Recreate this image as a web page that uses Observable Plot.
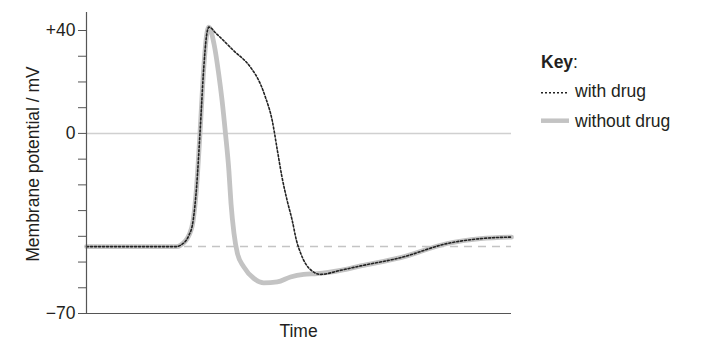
<!DOCTYPE html>
<html>
<head>
<meta charset="utf-8">
<script src="https://cdn.jsdelivr.net/npm/d3@7"></script>
<script src="https://cdn.jsdelivr.net/npm/@observablehq/plot@0.6"></script>
<style>
  html, body { margin: 0; padding: 0; background: #fff; }
  #chart { width: 705px; height: 344px; }
  svg { display: block; }
</style>
</head>
<body>
<div id="chart"></div>
<script>
// ---- data (time in arbitrary units, membrane potential in mV) ----
const withDrugT = [0, 21.2, 22.1, 24.1, 25.1, 25.9, 26.7, 27.6, 28.2, 28.8, 30.6, 34.6, 38.6, 40.9, 42.1, 43.7, 44.9, 46.0, 47.2, 48.4, 49.4, 50.4, 51.5, 53.1, 55.1, 59.8, 64.5, 73.9, 84.9, 92.7, 100];
const withDrugV = [-44, -44, -43.5, -39.6, -33.8, -20.9, 0, 25.7, 37.4, 41.3, 38.7, 32.2, 25.7, 19.3, 14.1, 5, -6.5, -17, -26, -33.8, -41.6, -46.6, -50.5, -53.5, -54.8, -53.2, -51.5, -48.3, -42.8, -40.9, -40.3];

const withoutDrugT = [0, 21.2, 22.1, 24.1, 25.1, 25.9, 26.7, 27.6, 28.2, 28.8, 30.0, 31.1, 31.9, 32.7, 33.5, 34.0, 34.7, 35.5, 37.0, 39.4, 41.7, 44.9, 48.0, 51.1, 54.3, 59.8, 64.5, 73.9, 84.9, 92.7, 100];
const withoutDrugV = [-44, -44, -43.5, -39.6, -33.8, -20.9, 0, 25.7, 37.4, 41.3, 34.8, 23.2, 12.8, 0, -14.4, -27.2, -38.8, -46.6, -51.9, -56.4, -58.1, -57.7, -55.8, -54.8, -54.5, -53.2, -51.5, -48.3, -42.8, -40.9, -40.3];

const restingPotential = -44;
const yTicks = [-70, -60, -50, -40, -30, -20, -10, 0, 10, 20, 30, 40];
const yTickLabels = {"-70": "\u221270", "0": "0", "40": "+40"};
const yDomain = [-70, 47];
const xDomain = [0, 100];

const legendItems = ["with drug", "without drug"];

// ---- build tables ----
const withDrug = withDrugT.map((t, i) => ({t, v: withDrugV[i]}));
const withoutDrug = withoutDrugT.map((t, i) => ({t, v: withoutDrugV[i]}));

const textColor = "#231f20";
const axisColor = "#555";
const grayLine = "#c3c3c3";
const dotColor = "#222";

const plot = Plot.plot({
  width: 705,
  height: 344,
  marginLeft: 86,
  marginRight: 194,
  marginTop: 12,
  marginBottom: 31,
  style: {fontFamily: "'Liberation Sans', Arial, sans-serif", fontSize: "17.5px", color: textColor, background: "#fff"},
  x: {domain: xDomain, axis: null},
  y: {domain: yDomain, axis: null},
  marks: [
    Plot.ruleY([0], {stroke: "#d0d0d0", strokeWidth: 1.5}),
    Plot.ruleY([restingPotential], {stroke: "#c4c4c4", strokeWidth: 1.5, strokeDasharray: "8,6"}),
    Plot.line(withoutDrug, {x: "t", y: "v", stroke: grayLine, strokeWidth: 4.8, curve: "monotone-x"}),
    Plot.line(withDrug, {x: "t", y: "v", stroke: dotColor, strokeWidth: 1.6, strokeDasharray: "2,2", curve: "monotone-x"}),
    Plot.axisY({
      ticks: yTicks,
      tickSize: 8,
      tickPadding: 3,
      tickFormat: d => yTickLabels[String(d)] ?? "",
      label: null,
      stroke: axisColor,
      fill: textColor,
      fontSize: 17.5
    }),
    Plot.ruleX([xDomain[0]], {stroke: axisColor, strokeWidth: 1.2}),
    Plot.ruleY([yDomain[0]], {stroke: axisColor, strokeWidth: 1.2})
  ]
});

document.getElementById("chart").appendChild(plot);

// ---- axis titles and key ----
const svg = d3.select(plot);
const font = "'Liberation Sans', Arial, sans-serif";

svg.append("text")
  .attr("transform", "translate(33,164) rotate(-90)")
  .attr("text-anchor", "middle")
  .attr("dominant-baseline", "central")
  .attr("font-family", font).attr("font-size", 17.5).attr("fill", textColor)
  .text("Membrane potential / mV");

svg.append("text")
  .attr("x", 298.5).attr("y", 337)
  .attr("text-anchor", "middle")
  .attr("font-family", font).attr("font-size", 17.5).attr("fill", textColor)
  .text("Time");

const key = svg.append("g")
  .attr("font-family", font).attr("font-size", 17.5).attr("fill", textColor)
  .attr("text-anchor", "start");
const keyTitle = key.append("text").attr("x", 541).attr("y", 68).attr("text-anchor", "start");
keyTitle.append("tspan").attr("font-weight", "bold").text("Key");
keyTitle.append("tspan").text(":");

key.append("line").attr("x1", 541).attr("x2", 569).attr("y1", 92.7).attr("y2", 92.7)
  .attr("stroke", dotColor).attr("stroke-width", 1.4).attr("stroke-dasharray", "2,2");
key.append("text").attr("x", 575).attr("y", 96.5).attr("text-anchor", "start").text(legendItems[0]);

key.append("line").attr("x1", 541).attr("x2", 569).attr("y1", 120.7).attr("y2", 120.7)
  .attr("stroke", grayLine).attr("stroke-width", 4.5);
key.append("text").attr("x", 575).attr("y", 126.7).attr("text-anchor", "start").text(legendItems[1]);
</script>
</body>
</html>
